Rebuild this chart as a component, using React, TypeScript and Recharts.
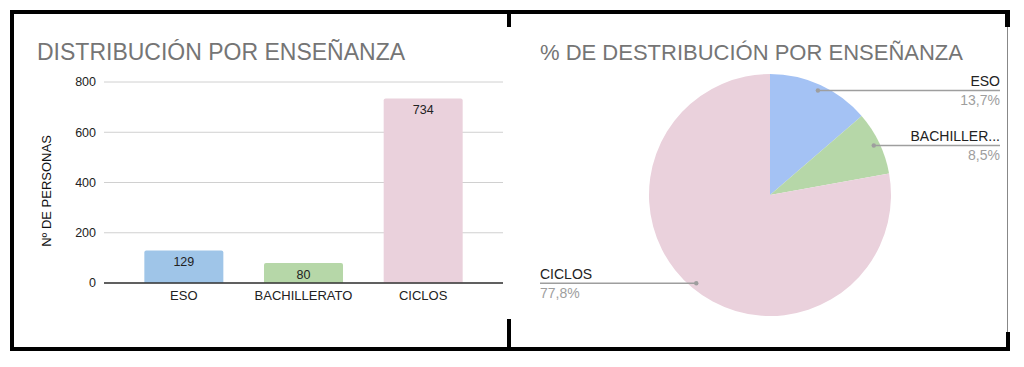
import React from "react"
import { BarChart, Bar, XAxis, YAxis, CartesianGrid, Cell, LabelList, PieChart, Pie } from "recharts"

const categories = ["ESO", "BACHILLERATO", "CICLOS"]
const personas = [129, 80, 734]
const yTicks = [0, 200, 400, 600, 800]
const barColors = ["#9fc5e8", "#b6d7a8", "#ead1dc"]
const pieColors = ["#a4c2f4", "#b6d7a8", "#ead1dc"]

const data = categories.map((name, i) => ({ name, value: personas[i] }))

const FONT = "'Liberation Sans', Arial, sans-serif"

const PIE_X = 510

function PieLabel(props: any) {
  const { cx, cy, midAngle, outerRadius, percent, name } = props
  const rad = (Math.PI / 180) * midAngle
  const px = cx + outerRadius * 0.95 * Math.cos(rad)
  const py = cy - outerRadius * 0.95 * Math.sin(rad)
  const right = Math.cos(rad) >= 0
  const endX = right ? 1000 - PIE_X : 540 - PIE_X
  const label = name.length > 10 ? name.slice(0, 9) + "..." : name
  const pct = (percent * 100).toFixed(1).replace(".", ",") + "%"
  const anchor = right ? "end" : "start"
  return (
    <g>
      <line x1={px} y1={py} x2={endX} y2={py} stroke="#9e9e9e" strokeWidth={1.5} />
      <circle cx={px} cy={py} r={2.2} fill="#9e9e9e" />
      <text x={endX} y={py - 4.5} textAnchor={anchor} fontSize={14} fill="#222" fontFamily={FONT}>
        {label}
      </text>
      <text x={endX} y={py + 14.5} textAnchor={anchor} fontSize={14} fill="#9e9e9e" fontFamily={FONT}>
        {pct}
      </text>
    </g>
  )
}

function Frame() {
  const blk = (x: number, y: number, w: number, h: number) => (
    <div style={{ position: "absolute", left: x, top: y, width: w, height: h, background: "#000" }} />
  )
  return (
    <>
      <div style={{ position: "absolute", left: 1007, top: 10, width: 1, height: 340, background: "#888" }} />
      {blk(10, 10, 1000, 3.5)}
      {blk(10, 10, 3.5, 341)}
      {blk(10, 347, 1000, 4)}
      {blk(507, 10, 3.5, 17)}
      {blk(507, 319, 3.5, 30)}
      {blk(1005, 10, 5, 17)}
      {blk(1006, 332, 4, 19)}
    </>
  )
}

export default function App() {
  return (
    <div style={{ position: "absolute", left: 0, top: 0, width: 1024, height: 367, background: "#fff", fontFamily: FONT }}>
      <div style={{ position: "absolute", left: 0, top: 0 }}>
        <BarChart width={510} height={367} data={data} margin={{ top: 82, right: 7, bottom: 54, left: 44 }} barCategoryGap="17%">
          <CartesianGrid vertical={false} stroke="#d0d0d0" />
          <XAxis
            dataKey="name"
            height={30}
            padding={{ left: 20, right: 20 }}
            tickLine={false}
            axisLine={{ stroke: "#333", strokeWidth: 1.5 }}
            tick={{ fill: "#222", fontSize: 13, fontFamily: FONT }}
          />
          <YAxis
            width={60}
            domain={[0, 800]}
            ticks={yTicks}
            tickLine={false}
            axisLine={false}
            tick={{ fill: "#222", fontSize: 12.5, fontFamily: FONT }}
          />
          <Bar dataKey="value" radius={[2, 2, 0, 0]} isAnimationActive={false}>
            {data.map((d, i) => (
              <Cell key={d.name} fill={barColors[i]} />
            ))}
            <LabelList dataKey="value" position="insideTop" offset={7} fill="#222" fontSize={12.5} fontFamily={FONT} />
          </Bar>
        </BarChart>
      </div>
      <div style={{ position: "absolute", left: PIE_X, top: 0 }}>
        <PieChart width={514} height={367}>
          <Pie
            data={data}
            dataKey="value"
            nameKey="name"
            cx={255}
            cy={190}
            outerRadius={121}
            startAngle={90}
            endAngle={-270}
            stroke="none"
            labelLine={false}
            label={PieLabel}
            isAnimationActive={false}
          >
            {data.map((d, i) => (
              <Cell key={d.name} fill={pieColors[i]} />
            ))}
          </Pie>
        </PieChart>
      </div>
      <svg width={1024} height={367} style={{ position: "absolute", left: 0, top: 0, pointerEvents: "none" }}>
        <text x={37} y={60} fontSize={23} fill="#757575" fontFamily={FONT}>
          DISTRIBUCIÓN POR ENSEÑANZA
        </text>
        <text x={540} y={60} fontSize={22} fill="#757575" fontFamily={FONT}>
          % DE DESTRIBUCIÓN POR ENSEÑANZA
        </text>
        <text
          x={51}
          y={191}
          transform="rotate(-90 51 191)"
          textAnchor="middle"
          fontSize={13}
          fill="#111"
          fontFamily={FONT}
        >
          Nº DE PERSONAS
        </text>
      </svg>
      <Frame />
    </div>
  )
}
